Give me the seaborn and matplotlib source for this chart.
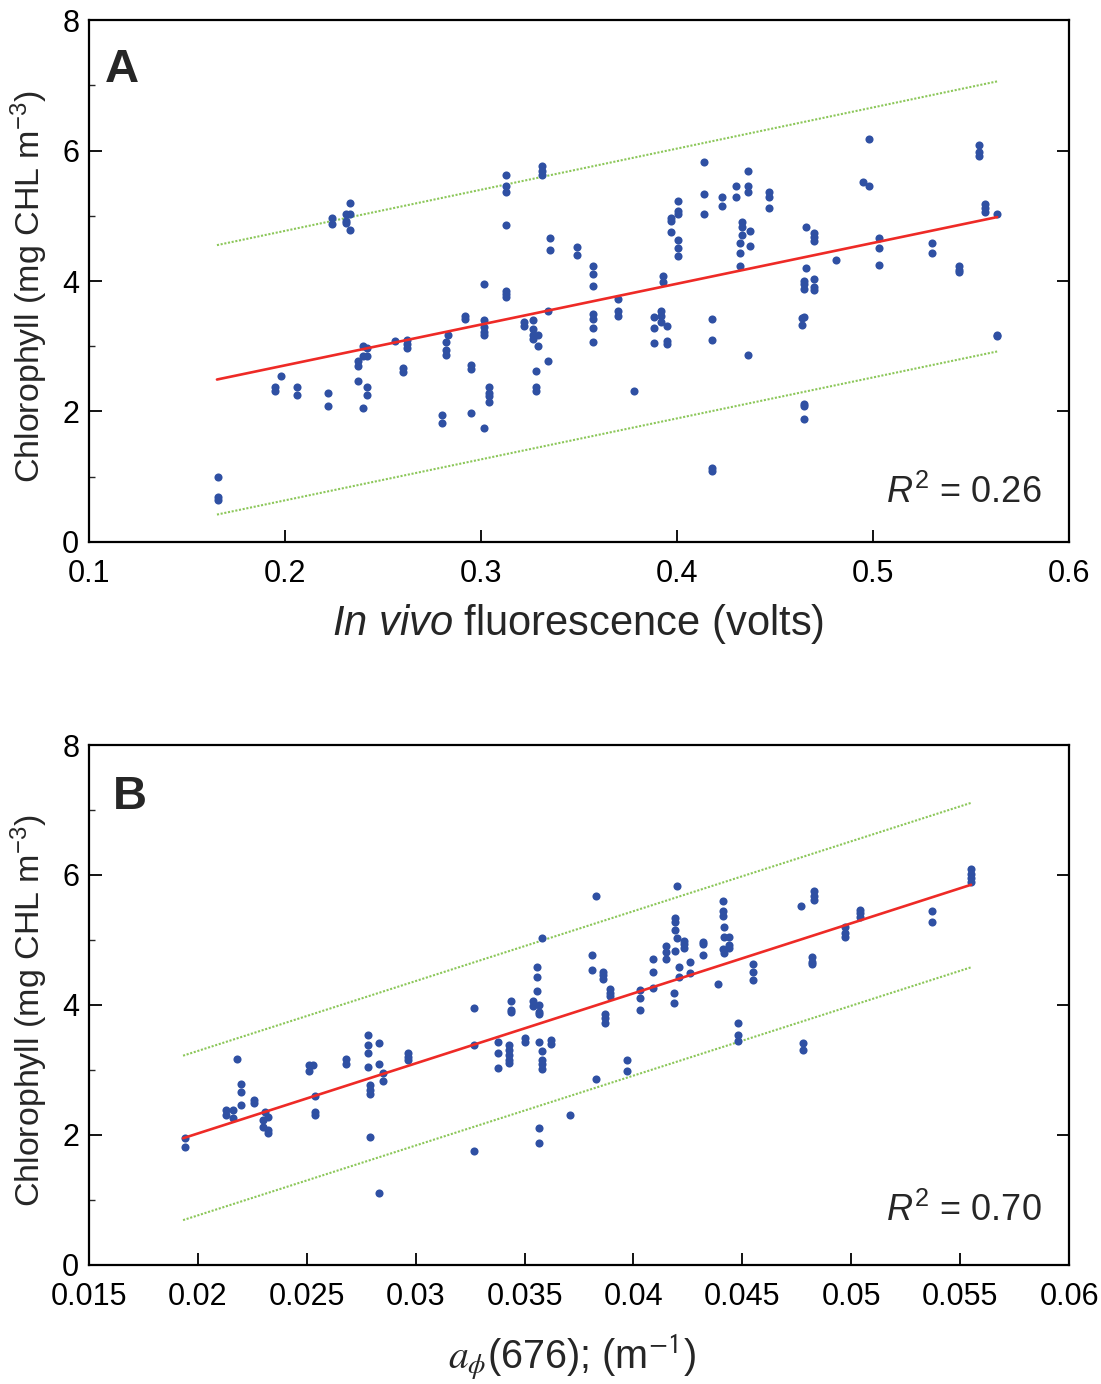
import numpy as np
import pandas as pd
import matplotlib
matplotlib.use("Agg")
import matplotlib.pyplot as plt
from matplotlib.ticker import MultipleLocator, FixedLocator, FixedFormatter
import seaborn as sns

# ---------------- data: panel A ----------------
a_x = [0.166, 0.166, 0.166,
       0.195, 0.195, 0.198, 0.206, 0.206, 0.222, 0.222,
       0.224, 0.224, 0.231, 0.231, 0.231, 0.233, 0.233, 0.233,
       0.237, 0.237, 0.237, 0.240, 0.240, 0.240, 0.242, 0.242, 0.242, 0.242,
       0.256, 0.260, 0.260, 0.262, 0.262, 0.262,
       0.280, 0.280, 0.282, 0.282, 0.282, 0.283,
       0.292, 0.292, 0.295, 0.295, 0.295,
       0.3015, 0.3015, 0.3015, 0.3015, 0.3015, 0.3015,
       0.304, 0.304, 0.304, 0.304,
       0.313, 0.313, 0.313, 0.313, 0.313, 0.313, 0.313,
       0.322, 0.322, 0.3265, 0.3265, 0.3265, 0.3265,
       0.328, 0.328, 0.328, 0.329, 0.329,
       0.331, 0.331, 0.331, 0.334, 0.334, 0.335, 0.335,
       0.349, 0.349,
       0.357, 0.357, 0.357, 0.357, 0.357, 0.357, 0.357,
       0.370, 0.370, 0.370, 0.378,
       0.388, 0.388, 0.388, 0.392, 0.392, 0.392, 0.393, 0.393,
       0.395, 0.395, 0.395, 0.397, 0.397, 0.397,
       0.4005, 0.4005, 0.4005, 0.4005, 0.4005, 0.4005,
       0.414, 0.414, 0.414, 0.418, 0.418, 0.418, 0.418,
       0.423, 0.423, 0.430, 0.430, 0.432, 0.432, 0.432,
       0.433, 0.433, 0.433, 0.436, 0.436, 0.436, 0.436, 0.437, 0.437,
       0.447, 0.447, 0.447,
       0.464, 0.464, 0.465, 0.465, 0.465, 0.465, 0.465, 0.465, 0.465,
       0.466, 0.466, 0.470, 0.470, 0.470, 0.470, 0.470, 0.470,
       0.481, 0.495, 0.498, 0.498, 0.503, 0.503, 0.503,
       0.530, 0.530, 0.544, 0.544, 0.544,
       0.554, 0.554, 0.554, 0.557, 0.557, 0.557, 0.563, 0.563, 0.563]
a_y = [1.00, 0.69, 0.65,
       2.38, 2.31, 2.54, 2.38, 2.26, 2.29, 2.08,
       4.97, 4.88, 5.03, 4.92, 4.89, 5.20, 5.03, 4.78,
       2.78, 2.69, 2.46, 3.00, 2.85, 2.06, 2.98, 2.85, 2.37, 2.26,
       3.08, 2.66, 2.60, 3.09, 3.03, 2.98,
       1.95, 1.83, 3.06, 2.95, 2.86, 3.18,
       3.46, 3.42, 2.72, 2.65, 1.97,
       3.95, 3.40, 3.29, 3.22, 3.17, 1.75,
       2.37, 2.29, 2.23, 2.14,
       5.62, 5.46, 5.37, 4.86, 3.85, 3.80, 3.75,
       3.37, 3.31, 3.40, 3.26, 3.18, 3.11,
       2.62, 2.37, 2.31, 3.17, 3.00,
       5.77, 5.69, 5.62, 3.54, 2.78, 4.66, 4.48,
       4.52, 4.40,
       4.23, 4.11, 3.92, 3.49, 3.42, 3.28, 3.06,
       3.72, 3.54, 3.46, 2.31,
       3.45, 3.28, 3.05, 3.54, 3.46, 3.37, 4.08, 3.98,
       3.31, 3.08, 3.03, 4.97, 4.92, 4.75,
       5.22, 5.08, 5.03, 4.63, 4.51, 4.38,
       5.83, 5.34, 5.03, 3.42, 3.09, 1.14, 1.09,
       5.29, 5.15, 5.45, 5.29, 4.58, 4.43, 4.23,
       4.91, 4.83, 4.71, 5.68, 5.45, 5.37, 2.86, 4.77, 4.54,
       5.37, 5.29, 5.12,
       3.43, 3.32, 4.00, 3.95, 3.88, 3.45, 2.11, 2.08, 1.89,
       4.83, 4.20, 4.74, 4.68, 4.62, 4.03, 3.91, 3.86,
       4.32, 5.52, 6.17, 5.45, 4.66, 4.51, 4.25,
       4.58, 4.43, 4.23, 4.17, 4.14,
       6.09, 5.98, 5.92, 5.18, 5.12, 5.06, 5.03, 3.17, 3.15]

# regression line and prediction bounds (end points)
a_fit_x = [0.1653, 0.5633]
a_fit_y = [2.49, 4.98]
a_upper = [4.55, 7.06]
a_lower = [0.42, 2.92]
a_r2 = "0.26"

# ---------------- data: panel B ----------------
b_x = [0.0194, 0.0194, 0.0213, 0.0213, 0.0216, 0.0216, 0.0218,
       0.0220, 0.0220, 0.0220, 0.0226, 0.0226, 0.0230, 0.0230, 0.0231,
       0.0232, 0.0232, 0.0232,
       0.0251, 0.0251, 0.0253, 0.0254, 0.0254, 0.0254, 0.0268, 0.0268,
       0.0278, 0.0278, 0.0278, 0.0278, 0.0279, 0.0279, 0.0279, 0.0279,
       0.0283, 0.0283, 0.0283, 0.0285, 0.0285, 0.02965, 0.02965, 0.02965,
       0.0327, 0.0327, 0.0327, 0.0338, 0.0338, 0.0338,
       0.0343, 0.0343, 0.0343, 0.0343, 0.0343, 0.0344, 0.0344, 0.0344,
       0.0350, 0.0350, 0.0354, 0.0354, 0.03557, 0.03557, 0.03557,
       0.03566, 0.03566, 0.03566, 0.03566, 0.03566, 0.03566,
       0.0358, 0.0358, 0.0358, 0.0358, 0.0358, 0.0362, 0.0362, 0.0371,
       0.0381, 0.0381, 0.0383, 0.0383, 0.0386, 0.0386, 0.0386,
       0.0387, 0.0387, 0.0387, 0.0389, 0.0389, 0.0389, 0.0397, 0.0397,
       0.0403, 0.0403, 0.0403, 0.0409, 0.0409, 0.0409, 0.0415, 0.0415, 0.0415,
       0.04186, 0.04186, 0.0419, 0.0419, 0.0419, 0.0419, 0.0420, 0.0420,
       0.0421, 0.0421, 0.0423, 0.0423, 0.0423, 0.0426, 0.0426,
       0.0432, 0.0432, 0.0432, 0.0439, 0.0441, 0.0441, 0.0441, 0.0441,
       0.04416, 0.04416, 0.04416, 0.0444, 0.0444, 0.0444,
       0.0448, 0.0448, 0.0448, 0.0455, 0.0455, 0.0455,
       0.0477, 0.0478, 0.0478, 0.0482, 0.0482, 0.0482, 0.0483, 0.0483, 0.0483,
       0.0497, 0.0497, 0.0497, 0.0504, 0.0504, 0.0504, 0.0537, 0.0537,
       0.0555, 0.0555, 0.0555, 0.0555]
b_y = [1.95, 1.82, 2.38, 2.31, 2.38, 2.26, 3.17,
       2.78, 2.66, 2.46, 2.54, 2.49, 2.23, 2.12, 2.35,
       2.28, 2.08, 2.03,
       3.08, 2.98, 3.08, 2.60, 2.35, 2.31, 3.17, 3.09,
       3.54, 3.38, 3.26, 3.05, 2.77, 2.69, 2.63, 1.97,
       3.42, 3.09, 1.11, 2.95, 2.83, 3.26, 3.20, 3.15,
       3.95, 3.38, 1.75, 3.43, 3.26, 3.03,
       3.38, 3.31, 3.23, 3.15, 3.11, 4.06, 3.92, 3.89,
       3.49, 3.43, 4.06, 3.98, 4.58, 4.43, 4.22,
       4.00, 3.89, 3.86, 3.43, 2.11, 1.88,
       5.03, 3.29, 3.15, 3.09, 3.02, 3.46, 3.40, 2.31,
       4.77, 4.54, 5.68, 2.86, 4.51, 4.46, 4.40,
       3.86, 3.80, 3.72, 4.25, 4.18, 4.14, 3.15, 2.98,
       4.23, 4.11, 3.92, 4.71, 4.51, 4.26, 4.91, 4.82, 4.71,
       4.18, 4.03, 5.28, 5.15, 5.34, 4.83, 5.83, 5.03,
       4.58, 4.43, 4.98, 4.94, 4.88, 4.66, 4.49,
       4.97, 4.94, 4.77, 4.32, 5.60, 5.45, 5.37, 4.86,
       5.20, 5.05, 4.80, 5.05, 4.92, 4.88,
       3.72, 3.54, 3.45, 4.63, 4.51, 4.38,
       5.52, 3.42, 3.31, 4.74, 4.66, 4.63, 5.75, 5.68, 5.62,
       5.20, 5.11, 5.05, 5.46, 5.42, 5.35, 5.45, 5.28,
       6.09, 6.02, 5.95, 5.89]

b_fit_x = [0.01932, 0.05550]
b_fit_y = [1.95, 5.85]
b_upper = [3.22, 7.11]
b_lower = [0.69, 4.58]
b_r2 = "0.70"

# ---------------- tick labels ----------------
a_xticks = [0.1, 0.2, 0.3, 0.4, 0.5, 0.6]
a_xticklabels = ["0.1", "0.2", "0.3", "0.4", "0.5", "0.6"]
b_xticks = [0.015, 0.02, 0.025, 0.03, 0.035, 0.04, 0.045, 0.05, 0.055, 0.06]
b_xticklabels = ["0.015", "0.02", "0.025", "0.03", "0.035", "0.04",
                 "0.045", "0.05", "0.055", "0.06"]
yticks = [0, 2, 4, 6, 8]
yticklabels = ["0", "2", "4", "6", "8"]

assert len(a_x) == len(a_y) and len(b_x) == len(b_y)

# ---------------- style ----------------
sns.set_theme(style="ticks")
plt.rcParams["font.family"] = ["Liberation Sans", "DejaVu Sans"]
plt.rcParams["mathtext.fontset"] = "custom"
plt.rcParams["mathtext.rm"] = "Liberation Sans"
plt.rcParams["mathtext.it"] = "Liberation Sans:italic"
plt.rcParams["mathtext.bf"] = "Liberation Sans:bold"

DOT = "#2F50A3"
RED = "#EE2A26"
GREEN = "#8CC75A"

fig = plt.figure(figsize=(11.01, 13.84), dpi=100)
axA = fig.add_axes([0.0808, 0.6084, 0.8902, 0.3771])
axB = fig.add_axes([0.0808, 0.0860, 0.8902, 0.3757])


def draw(ax, x, y, fx, fy, up, lo, r2, letter, xlim, xticks, xticklabels):
    pts = pd.DataFrame({"x": x, "y": y})
    line = pd.DataFrame({"x": fx, "fit": fy, "up": up, "lo": lo})
    sns.lineplot(data=line, x="x", y="up", ax=ax, color=GREEN, lw=1.5,
                 linestyle=(0, (1, 0.8)), zorder=2)
    sns.lineplot(data=line, x="x", y="lo", ax=ax, color=GREEN, lw=1.5,
                 linestyle=(0, (1, 0.8)), zorder=2)
    sns.scatterplot(data=pts, x="x", y="y", ax=ax, color=DOT, s=34,
                    linewidth=0, zorder=3)
    sns.lineplot(data=line, x="x", y="fit", ax=ax, color=RED, lw=1.9, zorder=4)
    ax.set_xlim(*xlim)
    ax.set_ylim(0, 8)
    ax.xaxis.set_major_locator(FixedLocator(xticks))
    ax.xaxis.set_major_formatter(FixedFormatter(xticklabels))
    ax.yaxis.set_major_locator(FixedLocator(yticks))
    ax.yaxis.set_major_formatter(FixedFormatter(yticklabels))
    ax.yaxis.set_minor_locator(MultipleLocator(1))
    ax.tick_params(axis="both", which="major", direction="in", length=9,
                   width=1.3, labelsize=22, colors="black")
    ax.tick_params(axis="x", which="major", pad=12, top=False)
    ax.tick_params(axis="y", which="major", pad=7, left=True, right=True)
    ax.tick_params(axis="y", which="minor", direction="in", length=4.5,
                   width=1.0, left=True, right=False)
    for sp in ax.spines.values():
        sp.set_visible(True)
        sp.set_linewidth(1.6)
        sp.set_color("black")
    ax.set_ylabel("Chlorophyll (mg CHL m$^{-3}$)", fontsize=24.5)
    ax.yaxis.set_label_coords(-0.040, 0.49)
    ax.text(0.972, 0.094 if letter == "A" else 0.104, "$R^2$ = " + r2,
            transform=ax.transAxes, ha="right", va="center", fontsize=26)
    ax.text(0.016 if letter == "A" else 0.024, 0.905 if letter == "A" else 0.90,
            letter, transform=ax.transAxes, ha="left", va="center",
            fontsize=34, fontweight="bold")


draw(axA, a_x, a_y, a_fit_x, a_fit_y, a_upper, a_lower, a_r2, "A",
     (0.1, 0.6), a_xticks, a_xticklabels)
draw(axB, b_x, b_y, b_fit_x, b_fit_y, b_upper, b_lower, b_r2, "B",
     (0.015, 0.06), b_xticks, b_xticklabels)

axA.set_xlabel("$\\mathit{In\\ vivo}$ fluorescence (volts)", fontsize=30)
axA.xaxis.set_label_coords(0.499, -0.115)
axB.set_xlabel("$a_{\\phi}$(676); (m$^{\\mathsf{-1}}$)", fontsize=28.5,
               math_fontfamily="stix")
axB.xaxis.set_label_coords(0.493, -0.13)

fig.savefig("out.png", dpi=100)
